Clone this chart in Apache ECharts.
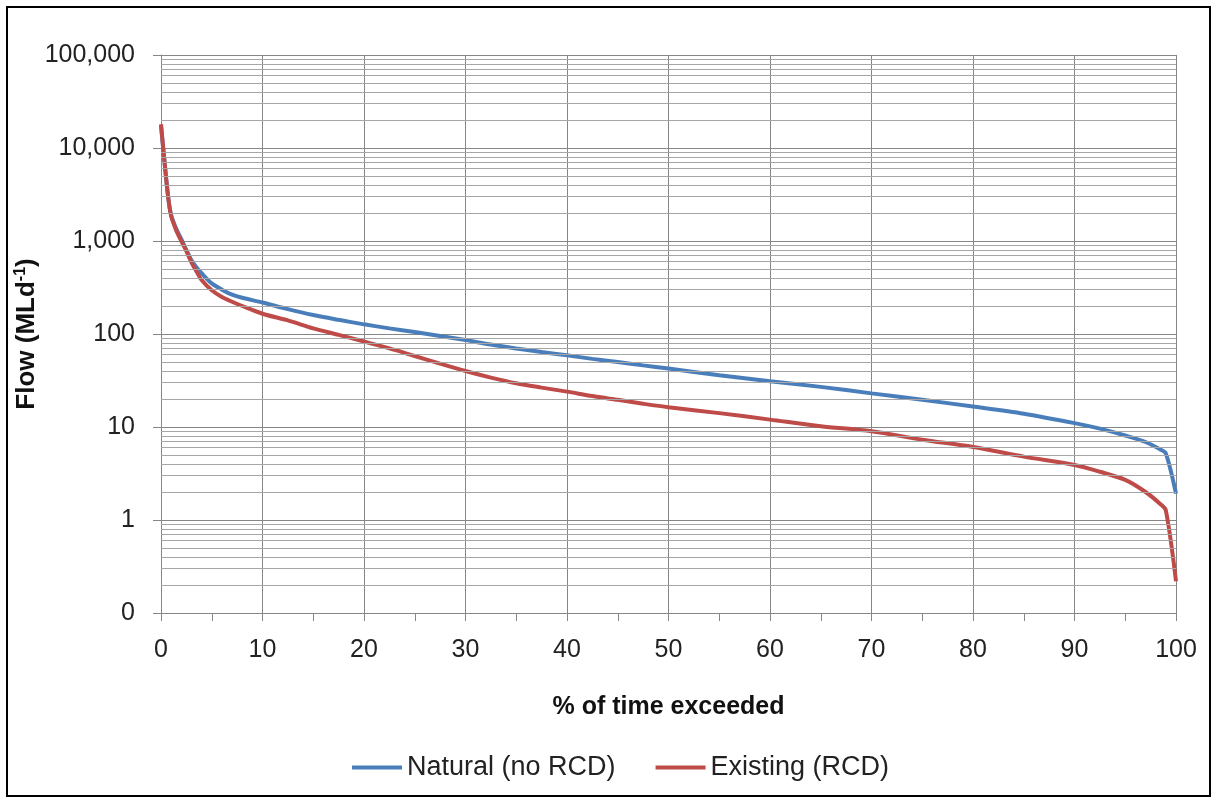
<!DOCTYPE html>
<html>
<head>
<meta charset="utf-8">
<script src="https://cdn.jsdelivr.net/npm/echarts@6/dist/echarts.min.js"></script>
<style>html,body{margin:0;padding:0;background:#fff;}#c{width:1217px;height:799px;}</style>
</head>
<body>
<div id="c"></div>
<script>
// % of time exceeded
const pctExceeded = [0, 0.3, 0.7, 1, 1.5, 2, 2.5, 3, 3.5, 4, 5, 6, 7, 8, 10, 12.5, 15, 17.5, 20, 22.5, 25, 27.5, 30, 32.5, 35, 37.5, 40, 42.5, 45, 47.5, 50, 55, 60, 65, 70, 75, 80, 85, 90, 92.5, 95, 97, 98.5, 99, 100];
// Flow (MLd-1)
const naturalFlow = [17500, 8000, 3000, 1900, 1350, 1050, 800, 620, 520, 450, 350, 300, 265, 245, 218, 185, 160, 142, 127, 115, 105, 95, 86, 77, 70, 64, 59, 54, 50, 46, 42.5, 36, 31, 27, 23, 19.6, 16.6, 13.9, 11.0, 9.6, 8.1, 6.9, 5.7, 5.2, 1.92];
const existingFlow = [18000, 8000, 3000, 1850, 1300, 1000, 780, 590, 470, 380, 295, 250, 222, 200, 165, 140, 115, 98, 83, 70, 58, 48, 40, 34, 29.5, 26.5, 24, 21.5, 19.6, 17.8, 16.3, 14.1, 12.0, 10.2, 9.0, 7.3, 6.1, 4.8, 3.9, 3.3, 2.7, 2.0, 1.47, 1.27, 0.22];
const seriesNames = ['Natural (no RCD)', 'Existing (RCD)'];
const decades = [0.1, 1, 10, 100, 1000, 10000, 100000];

const minorLines = [];
for (let i = 0; i < decades.length - 1; i++) {
  for (let m = 2; m <= 9; m++) minorLines.push({ yAxis: decades[i] * m });
}

const chart = echarts.init(document.getElementById('c'));
const FONT = 'Liberation Sans, Arial, sans-serif';
chart.setOption({
  animation: false,
  backgroundColor: '#ffffff',
  textStyle: { fontFamily: FONT },
  graphic: [{
    type: 'rect',
    shape: { x: 7, y: 7, width: 1203, height: 789 },
    style: { fill: 'none', stroke: '#000', lineWidth: 2 },
    silent: true
  }],
  grid: { left: 161, right: 41, top: 55, bottom: 186 },
  legend: {
    data: seriesNames,
    left: 347,
    top: 749,
    icon: 'rect',
    itemWidth: 50,
    itemHeight: 4,
    itemGap: 40,
    textStyle: { fontSize: 27, color: '#222', fontFamily: FONT }
  },
  xAxis: {
    type: 'value',
    min: 0, max: 100, interval: 10,
    name: '% of time exceeded',
    nameLocation: 'middle',
    nameGap: 82,
    nameTextStyle: { fontSize: 25, fontWeight: 'bold', color: '#111', fontFamily: FONT },
    axisLine: { show: true, lineStyle: { color: '#868686', width: 1 } },
    axisTick: { show: true, length: 8, lineStyle: { color: '#868686' } },
    minorTick: { show: true, splitNumber: 2, length: 8, lineStyle: { color: '#868686' } },
    axisLabel: { fontSize: 25, color: '#222', margin: 25, fontFamily: FONT },
    splitLine: { show: true, lineStyle: { color: '#868686', width: 1 } }
  },
  yAxis: {
    type: 'log',
    logBase: 10,
    min: 0.1, max: 100000, interval: 1,
    name: '{a|Flow (MLd}{s|-1}{a|)}',
    nameLocation: 'middle',
    nameGap: 120,
    nameMoveOverlap: false,
    nameTextStyle: {
      rich: {
        a: { fontSize: 26, fontWeight: 'bold', color: '#111', fontFamily: FONT },
        s: { fontSize: 16, fontWeight: 'bold', color: '#111', fontFamily: FONT, verticalAlign: 'top', padding: [0, 0, 12, 0] }
      }
    },
    axisLine: { show: true, lineStyle: { color: '#868686', width: 1 } },
    axisTick: { show: true, length: 8, lineStyle: { color: '#868686' } },
    axisLabel: {
      fontSize: 25, color: '#222', margin: 26, fontFamily: FONT,
      formatter: function (v) { return v < 1 ? '0' : Math.round(v).toLocaleString('en-US'); }
    },
    splitLine: { show: true, lineStyle: { color: '#868686', width: 1 } }
  },
  series: [
    {
      name: '__minor', type: 'line', data: [], z: 1, silent: true,
      markLine: {
        silent: true, symbol: ['none', 'none'], label: { show: false },
        lineStyle: { color: '#a6a6a6', width: 1, type: 'solid' },
        emphasis: { disabled: true },
        data: minorLines
      }
    },
    {
      name: seriesNames[0], type: 'line', z: 3,
      data: pctExceeded.map((p, i) => [p, naturalFlow[i]]),
      showSymbol: false, smooth: 0.3,
      lineStyle: { color: '#4a7ebb', width: 4 },
      itemStyle: { color: '#4a7ebb' }
    },
    {
      name: seriesNames[1], type: 'line', z: 4,
      data: pctExceeded.map((p, i) => [p, existingFlow[i]]),
      showSymbol: false, smooth: 0.3,
      lineStyle: { color: '#be4b48', width: 4 },
      itemStyle: { color: '#be4b48' }
    }
  ]
});
</script>
</body>
</html>
